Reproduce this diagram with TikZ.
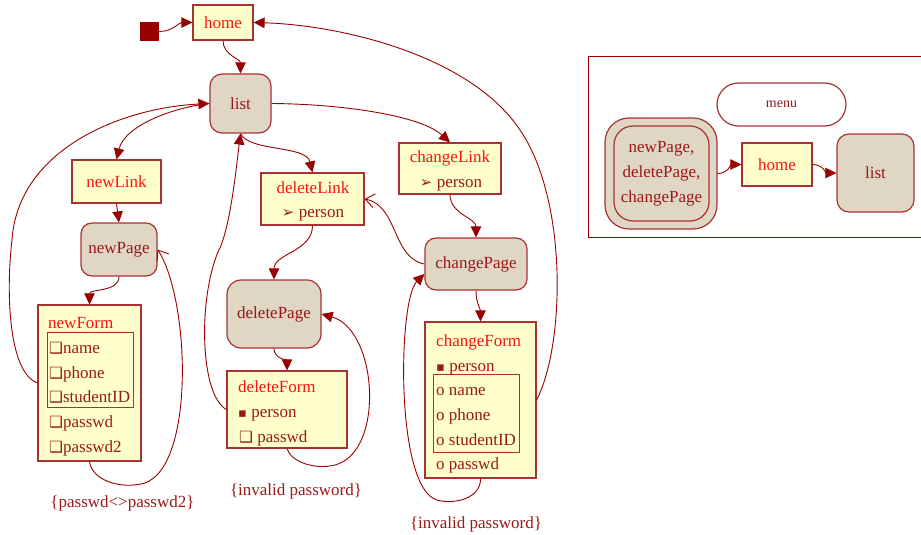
\documentclass[tikz,border=0pt]{standalone}
\usepackage{fontspec}
\setmainfont{Liberation Serif}
\newfontfamily\symfont{DejaVu Sans}
\usetikzlibrary{arrows.meta}

\definecolor{edgecol}{HTML}{990000}
\definecolor{boxline}{HTML}{A83232}
\definecolor{notefill}{HTML}{FFFFCC}
\definecolor{pagefill}{HTML}{DFD6C3}
\definecolor{titlered}{HTML}{FF1010}
\definecolor{textred}{HTML}{9A1818}

\newcommand\chkbox{{\symfont\bfseries\fontsize{15.5}{15}\selectfont ❑}}
\newcommand\arrhead{{\symfont\bfseries\fontsize{15}{15}\selectfont ➢}}
\newcommand\sqbullet{{\symfont\fontsize{13}{13}\selectfont ▪}}

\tikzset{
  every node/.style={font=\fontsize{17}{20}\selectfont},
  notebox/.style={draw=boxline, fill=notefill, line width=1.2pt, inner sep=0pt, text=titlered},
  pagebox/.style={draw=boxline, fill=pagefill, line width=1.2pt, rounded corners=11pt, inner sep=0pt, text=textred},
  grpbox/.style={draw=boxline, line width=1pt, inner sep=0pt},
  itemtext/.style={anchor=base west, inner sep=0pt, text=textred},
  titletext/.style={anchor=base west, inner sep=0pt, text=titlered},
  ctitletext/.style={anchor=base, inner sep=0pt, text=titlered},
  citemtext/.style={anchor=base, inner sep=0pt, text=textred},
  guardtext/.style={anchor=base, inner sep=0pt, text=textred},
  flow/.style={draw=edgecol, line width=0.9pt, -{Triangle[length=11pt,width=10.5pt]}},
  openflow/.style={draw=edgecol, line width=0.9pt, -{Straight Barb[length=9pt,width=14pt]}},
}

\begin{document}
\begin{tikzpicture}[x=1pt,y=-1pt]
\useasboundingbox (0,0) rectangle (921,535);

% ---------- state machine ----------
\node[fill=edgecol, minimum size=19pt, inner sep=0pt] (start) at (149.5,31.5) {};
\node[notebox, minimum width=60pt, minimum height=35pt] (home) at (223,22.5) {home};
\node[pagebox, rounded corners=12pt, minimum width=61pt, minimum height=59pt] (list) at (240.5,103.5) {list};

\node[notebox, minimum width=89pt, minimum height=43pt] (newLink) at (116.5,181.5) {newLink};
\node[pagebox, minimum width=76pt, minimum height=53pt] (newPage) at (119,249.5) {newPage};

\node[notebox, minimum width=103pt, minimum height=52pt] (deleteLink) at (312.5,199) {};
\node[ctitletext] (deleteLinkTitle) at (313,193) {deleteLink};
\node[citemtext] (deleteLinkArg) at (313,217) {\arrhead\ person};
\node[pagebox, rounded corners=14pt, minimum width=94pt, minimum height=68pt] (deletePage) at (274,314) {deletePage};

\node[notebox, minimum width=102pt, minimum height=51pt] (changeLink) at (450,168.5) {};
\node[ctitletext] (changeLinkTitle) at (450,162) {changeLink};
\node[citemtext] (changeLinkArg) at (451,187) {\arrhead\ person};
\node[pagebox, minimum width=102pt, minimum height=52pt] (changePage) at (476,264) {changePage};

% new form
\node[notebox, minimum width=103pt, minimum height=156pt] (newForm) at (89.5,383) {};
\node[grpbox, minimum width=86pt, minimum height=75pt] (newFields) at (90,369.5) {};
\node[titletext] (newFormTitle) at (48,328) {newForm};
\node[itemtext] (nfName) at (49,353) {\chkbox name};
\node[itemtext] (nfPhone) at (49,378) {\chkbox phone};
\node[itemtext] (nfId) at (49,402) {\chkbox studentID};
\node[itemtext] (nfPw) at (49,427) {\chkbox passwd};
\node[itemtext] (nfPw2) at (49,452) {\chkbox passwd2};

% delete form
\node[notebox, minimum width=120pt, minimum height=77pt] (deleteForm) at (287,409.5) {};
\node[titletext] (deleteFormTitle) at (238,392) {deleteForm};
\node[itemtext] (dfPerson) at (238,417) {\sqbullet\ person};
\node[itemtext] (dfPw) at (239,442) {\chkbox\ passwd};

% change form
\node[notebox, minimum width=111pt, minimum height=156pt] (changeForm) at (480.5,400) {};
\node[grpbox, minimum width=86pt, minimum height=78pt] (changeFields) at (476,413) {};
\node[titletext] (changeFormTitle) at (436,346) {changeForm};
\node[itemtext] (cfPerson) at (436,371) {\sqbullet\ person};
\node[itemtext] (cfName) at (436,395) {o name};
\node[itemtext] (cfPhone) at (436,420) {o phone};
\node[itemtext] (cfId) at (436,445) {o studentID};
\node[itemtext] (cfPw) at (436,469) {o passwd};

% guards
\node[guardtext] (newGuard) at (122.5,507) {\{passwd<>passwd2\}};
\node[guardtext] (deleteGuard) at (296,495) {\{invalid password\}};
\node[guardtext] (changeGuard) at (476,528) {\{invalid password\}};

% transitions
\draw[flow] (start.east) to[out=0,in=180] (home.west);
\draw[flow] (home.south) to[out=-90,in=90] (list.north);
\draw[flow] (list.west) .. controls (175,107) and (125,125) .. (newLink.north);
\draw[flow] (newLink.south) -- (newPage.north);
\draw[flow] (newPage.south) to[out=-90,in=90] (newForm.north);
\draw[flow] (newForm.west) .. controls (8,372) and (6,290) .. (12,240)
            .. controls (18,150) and (120,108) .. (list.west);
\draw[openflow] (newForm.south) .. controls (92,480) and (120,490) .. (145,483)
            .. controls (195,465) and (190,300) .. (newPage.east);

\draw[flow] (list.south) .. controls (250,152) and (306,145) .. (deleteLink.north);
\draw[flow] (deleteForm.west) .. controls (200,395) and (198,300) .. (218,252)
            .. controls (230,230) and (236,170) .. (list.south);
\draw[flow] (deleteLink.south) to[out=-90,in=90] (deletePage.north);
\draw[flow] (deletePage.south) to[out=-90,in=90] (deleteForm.north);
\draw[flow] (deleteForm.south) .. controls (291,462) and (315,470) .. (335,465)
            .. controls (385,452) and (378,330) .. (deletePage.east);

\draw[flow] (list.east) .. controls (340,104) and (420,115) .. (changeLink.north);
\draw[flow] (changeLink.south) to[out=-90,in=90] (changePage.north);
\draw[openflow] (changePage.west) .. controls (392,258) and (398,205) .. (deleteLink.east);
\draw[flow] (changePage.south) to[out=-90,in=90] (changeForm.north);
\draw[flow] (changeForm.east) .. controls (565,345) and (568,200) .. (520,130)
            .. controls (470,55) and (340,25) .. (home.east);
\draw[flow] (changeForm.south) .. controls (481,498) and (455,505) .. (437,500)
            .. controls (395,488) and (398,300) .. ([yshift=-10pt]changePage.west);

% ---------- menu legend ----------
\draw[edgecol, line width=1pt] (921,57) -- (588,57) -- (588,237) -- (921,237);
\node[draw=boxline, line width=1.2pt, rounded corners=21.5pt, minimum width=129pt,
      minimum height=43pt, inner sep=0pt, text=textred, font=\fontsize{14}{16}\selectfont]
      (menu) at (781.5,104.5) {menu};
\node[pagebox, rounded corners=24pt, minimum width=112pt, minimum height=111pt] (pages) at (661,173.5) {};
\node[draw=boxline, line width=1.2pt, rounded corners=19pt, minimum width=95pt, minimum height=95pt,
      inner sep=0pt, text=textred, align=center, font=\fontsize{17}{25}\selectfont]
      (pagesInner) at (661.5,173.5) {newPage,\\deletePage,\\changePage};
\node[notebox, minimum width=70pt, minimum height=43pt] (menuHome) at (777,164.5) {home};
\node[pagebox, rounded corners=12pt, minimum width=77pt, minimum height=78pt] (menuList) at (875.5,173) {list};
\draw[flow] (pages.east) to[out=0,in=180] (menuHome.west);
\draw[flow] (menuHome.east) to[out=0,in=180] (menuList.west);
\end{tikzpicture}
\end{document}
